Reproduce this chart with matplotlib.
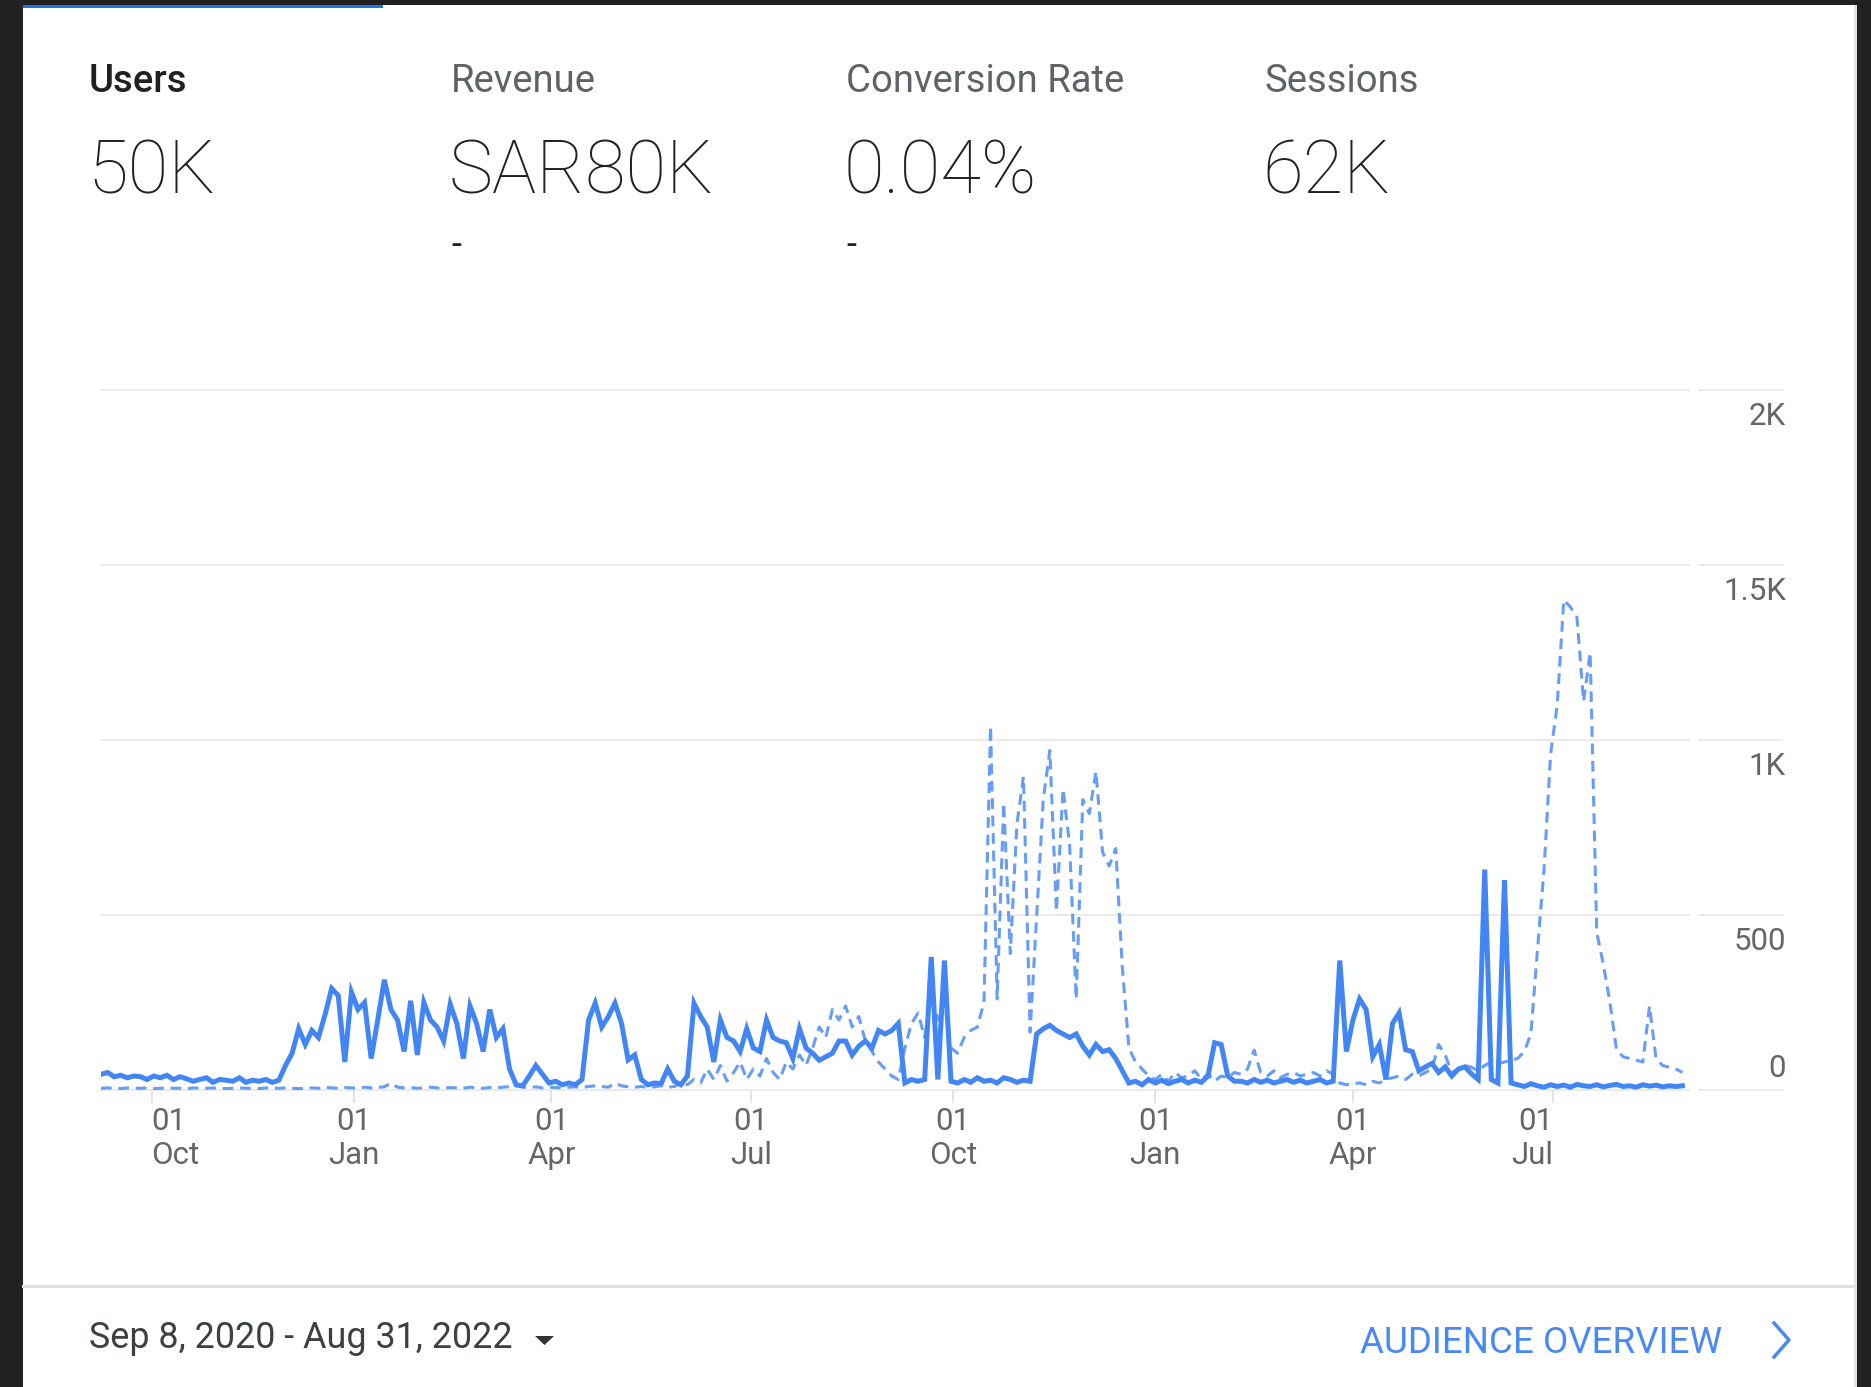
import matplotlib
matplotlib.use("Agg")
import matplotlib.pyplot as plt
import matplotlib.transforms as mtransforms
import pandas as pd
from matplotlib.lines import Line2D
from matplotlib.patches import Polygon, Rectangle

W, H = 1871, 1387
DPI = 100

plt.rcParams["font.family"] = ["Roboto", "DejaVu Sans"]

# ---- data (one value every 3 days) ----
start_date = "2020-09-08"
end_date = "2022-08-31"
step = "3D"

users = [
    45, 50, 38, 42, 35, 40, 38, 30, 40, 35, 42, 30, 38, 32, 25, 30, 35, 22, 30, 28,
    25, 35, 22, 28, 25, 30, 22, 28,
    70, 105, 175, 130, 170, 150, 215, 290, 270, 80, 280, 230, 250, 90, 200, 315, 230,
    200, 110, 255, 100, 250, 200, 180, 140, 245, 190, 90, 240, 190, 110, 230, 150, 175, 60,
    15, 12, 40, 70, 45, 20, 25, 15, 20, 15, 30, 200, 248, 180, 210, 248, 190, 86, 100,
    30, 15, 20, 18, 60, 25, 15, 40, 248, 210, 180, 80, 200, 150, 140, 110, 175, 120,
    110, 200, 150, 140, 135, 90, 175, 120, 105, 85, 95, 105, 140, 140, 100, 125, 140, 120,
    170, 160, 170, 190,
    20, 30, 25, 30, 380, 30, 370, 25, 20, 30, 22, 35, 25, 28, 20, 35, 30, 22, 28, 25,
    160, 175, 185, 170, 160, 150, 160, 125, 100, 130, 110, 115, 90, 55, 20, 25, 15, 30,
    20, 28, 18, 25, 30, 20, 28, 22, 40, 135, 130, 40, 25,
    25, 20, 30, 22, 28, 20, 25, 30, 22, 28, 20, 25, 30, 20, 25,
    370, 110, 200, 260, 230, 95, 130, 30, 190, 220, 115, 110, 55, 66, 76, 50, 66, 40,
    60, 66, 46, 30, 630, 30, 20, 600, 20,
    15, 10, 18, 12, 8, 15, 10, 14, 8, 16, 12, 10, 15, 9, 13, 16, 10, 12, 8, 15, 11, 14,
    9, 12, 10, 12,
]

comparison = [
    5, 6, 5, 4, 6, 5, 5, 6, 4, 5, 6, 5, 5, 4, 6, 5, 5, 6, 5, 4,
    5, 6, 5, 5, 4, 6, 5, 5, 6, 5, 4, 5, 6, 5, 8, 6, 5, 7, 6, 5,
    8, 6, 7, 9, 20, 8, 6, 7, 5, 6, 8, 6, 5, 7, 6, 5, 8, 6, 5, 7,
    6, 8, 10, 12, 8, 7, 9, 6, 8, 7, 6, 8, 9, 7, 10, 12, 10, 8, 20, 12,
    9, 8, 10, 7, 9, 12, 8, 10, 20, 15,
    30, 20, 60, 30, 70, 25, 50, 80, 30, 60, 40, 90, 50, 30, 80, 60, 100, 70, 120, 180,
    150, 230, 200, 240, 180, 210, 140, 110, 80, 60, 40, 30,
    120, 190, 220, 150, 280, 200, 250, 120, 105, 150, 170, 180, 250, 1040, 260, 820,
    390, 760, 895, 165, 500, 830, 970, 510, 860, 700, 260, 830, 790, 910, 680, 640,
    690, 350, 120, 80, 60, 40,
    30, 45, 25, 50, 35, 40, 55, 30, 45, 25, 40, 35, 50, 45, 60, 114, 50, 40, 55, 35,
    45, 50, 40,
    45, 50, 40, 55, 45, 20, 15, 18, 20, 15, 25, 20,
    30, 35, 40, 30, 45, 40, 50, 60, 130, 100, 50, 60, 70, 65, 55, 70, 80, 75, 80, 85, 90,
    110, 160, 400, 630, 960, 1100, 1400, 1380, 1350, 1110, 1250,
    450, 360, 250, 115, 95, 90, 85, 80, 240, 90, 70, 65, 60, 50,
]

metric_labels = ["Users", "Revenue", "Conversion Rate", "Sessions"]
metric_values = ["50K", "SAR80K", "0.04%", "62K"]
metric_deltas = ["", "-", "-", ""]

y_ticks = [0, 500, 1000, 1500, 2000]
y_tick_labels = ["0", "500", "1K", "1.5K", "2K"]

x_tick_dates = ["2020-10-01", "2021-01-01", "2021-04-01", "2021-07-01",
                "2021-10-01", "2022-01-01", "2022-04-01", "2022-07-01"]
x_tick_days = ["01"] * 8
x_tick_months = ["Oct", "Jan", "Apr", "Jul", "Oct", "Jan", "Apr", "Jul"]

date_range_label = "Sep 8, 2020 - Aug 31, 2022"
link_label = "AUDIENCE OVERVIEW"

# ---- colours ----
BLUE = "#4285f4"
GRID = "#ebebeb"
TICK_TEXT = "#666666"


def fx(px):
    return px / W


def fy(py):
    return 1 - py / H


fig = plt.figure(figsize=(W / DPI, H / DPI), dpi=DPI, facecolor="#212121")

# white card, top accent bar, right edge (kept behind the axes)
fig.patches.append(Rectangle((fx(23), 0), fx(1854) - fx(23), fy(5), transform=fig.transFigure,
                             facecolor="white", edgecolor="none", zorder=-10))
fig.patches.append(Rectangle((fx(1854), 0), fx(3), fy(5), transform=fig.transFigure,
                             facecolor="#e3e3e3", edgecolor="none", zorder=-10))
fig.patches.append(Rectangle((fx(23), fy(8)), fx(383) - fx(23), fy(5) - fy(8),
                             transform=fig.transFigure, facecolor="#1a73e8",
                             edgecolor="none", zorder=-9))

# metric header
label_x = [89, 451, 846, 1264]
for i, (lab, val, dlt) in enumerate(zip(metric_labels, metric_values, metric_deltas)):
    fig.text(fx(label_x[i]), fy(92), lab, fontsize=27.5, va="baseline",
             color="#212121" if i == 0 else "#5f6368",
             weight="medium" if i == 0 else "normal")
    fig.text(fx(label_x[i] - 2), fy(193), val, fontsize=53.5, va="baseline", color="#212121",
             weight="light")
    if dlt:
        fig.text(fx(label_x[i]), fy(256), dlt, fontsize=26, va="baseline", color="#212121")

# chart
ax = fig.add_axes([fx(101), fy(1090), fx(1689) - fx(101), fy(390) - fy(1090)])
ax.set_facecolor("none")
for s in ax.spines.values():
    s.set_visible(False)

dates = pd.date_range(start_date, periods=len(users), freq=step)
ax.set_xlim(pd.Timestamp(start_date), pd.Timestamp(end_date) + pd.Timedelta(days=1))
ax.set_ylim(0, 2000)

trans_grid = mtransforms.blended_transform_factory(fig.transFigure, ax.transData)
for v in y_ticks:
    ax.axhline(v, color=GRID, lw=1.5, zorder=0, clip_on=False)
    ax.add_line(Line2D([fx(1699), fx(1782)], [v, v], transform=trans_grid, color=GRID,
                       lw=1.5, clip_on=False))

for v, lab in zip(y_ticks, y_tick_labels):
    off = 13 if v == 0 else -35
    ax.text(fx(1786), v, lab, ha="right", va="baseline", fontsize=22.5, color=TICK_TEXT,
            transform=mtransforms.offset_copy(trans_grid, fig=fig, y=off, units="dots"))

ax.plot(dates, comparison, color=BLUE, lw=2.2, dashes=(3.5, 2.2), alpha=0.8, zorder=2)
ax.plot(dates, users, color=BLUE, lw=3.6, zorder=3, solid_joinstyle="miter")

tick_ts = pd.to_datetime(x_tick_dates)
ax.set_xticks(tick_ts)
ax.tick_params(axis="x", length=9.5, width=1.5, color="#e3e3e3", labelbottom=False)
ax.tick_params(axis="y", left=False, labelleft=False)

trans_x = mtransforms.blended_transform_factory(ax.transData, ax.transAxes)
for i, (d, day, mon) in enumerate(zip(tick_ts, x_tick_days, x_tick_months)):
    ha = "left" if i == 0 else ("right" if i == len(tick_ts) - 1 else "center")
    ax.text(d, 0, day, ha=ha, va="baseline", fontsize=22.5, color=TICK_TEXT,
            transform=mtransforms.offset_copy(trans_x, fig=fig, y=-40, units="dots"))
    ax.text(d, 0, mon, ha=ha, va="baseline", fontsize=22.5, color=TICK_TEXT,
            transform=mtransforms.offset_copy(trans_x, fig=fig, y=-74, units="dots"))

# footer
fig.add_artist(Line2D([fx(23), fx(1854)], [fy(1285.5), fy(1285.5)], color="#e0e0e0", lw=2.2))
fig.text(fx(89), fy(1348), date_range_label, fontsize=25.8, va="baseline", color="#3c4043")
fig.patches.append(Polygon([(fx(535), fy(1336)), (fx(554), fy(1336)), (fx(544.5), fy(1345))],
                           closed=True, transform=fig.transFigure, facecolor="#333333",
                           edgecolor="none"))
fig.text(fx(1360), fy(1353), link_label, fontsize=26.5, va="baseline", color="#4a89f3")
fig.add_artist(Line2D([fx(1774), fx(1789), fx(1774)], [fy(1323), fy(1340), fy(1357)],
                      color="#4a89f3", lw=2.5))

fig.savefig("out.png", dpi=DPI, facecolor=fig.get_facecolor())
